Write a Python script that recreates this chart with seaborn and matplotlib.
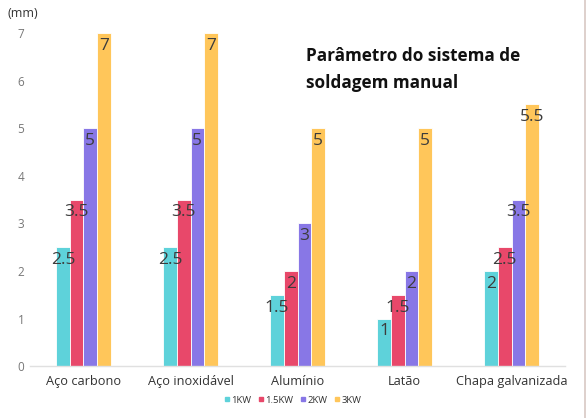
import pandas as pd
import seaborn as sns
import matplotlib.pyplot as plt
from matplotlib.lines import Line2D

# Data
materials = ['Aço carbono', 'Aço inoxidável', 'Alumínio', 'Latão', 'Chapa galvanizada']
power_levels = ['1KW', '1.5KW', '2KW', '3KW']
kw1 = [2.5, 2.5, 1.5, 1, 2]
kw15 = [3.5, 3.5, 2, 1.5, 2.5]
kw2 = [5, 5, 3, 2, 3.5]
kw3 = [7, 7, 5, 5, 5.5]
colors = ['#5ED2DA', '#E8486A', '#8877E6', '#FFC65A']

series = [kw1, kw15, kw2, kw3]
rows = []
for p, vals in zip(power_levels, series):
    for m, v in zip(materials, vals):
        rows.append({'material': m, 'power': p, 'value': v})
df = pd.DataFrame(rows)

sns.set_theme(style='white')
plt.rcParams['font.family'] = ['Open Sans', 'DejaVu Sans']

fig = plt.figure(figsize=(5.88, 4.18), dpi=100)
ax = fig.add_axes([0.051, 0.124, 0.910, 0.797])

sns.barplot(data=df, x='material', y='value', hue='power', palette=colors,
            width=0.51, saturation=1, ax=ax, legend=False,
            edgecolor='white', linewidth=0.6)

# Value labels inside top of each bar
for container in ax.containers:
    for bar in container:
        h = bar.get_height()
        ax.annotate(f'{h:g}', (bar.get_x() + bar.get_width() / 2, h),
                    xytext=(0, -3.5), textcoords='offset points',
                    ha='center', va='top', fontsize=12.5, color='#3C3C3C')

ax.set_ylim(0, 7)
ax.set_xlim(-0.5, 4.5)
ax.set_yticks(range(0, 8))
ax.tick_params(axis='y', labelsize=8.5, colors='#777777', length=0, pad=4)
ax.tick_params(axis='x', labelsize=9.2, colors='#333333', length=0, pad=6)
ax.set_xlabel('')
ax.set_ylabel('')
for s in ['top', 'right', 'left']:
    ax.spines[s].set_visible(False)
ax.spines['bottom'].set_color('#E0E0E0')
ax.spines['bottom'].set_linewidth(1)

fig.text(0.012, 0.968, '(mm)', fontsize=9, color='#333333', va='center')
fig.text(0.52, 0.834, 'Parâmetro do sistema de\nsoldagem manual', fontsize=12.3,
         fontweight='bold', color='#111111', va='center', linespacing=1.6)

handles = [Line2D([], [], marker='s', linestyle='', color=c, markersize=3.5)
           for c in colors]
fig.legend(handles, power_levels, loc='center', bbox_to_anchor=(0.497, 0.043),
           ncol=4, frameon=False, fontsize=6.8, handletextpad=0.1,
           columnspacing=0.6, handlelength=0.8, labelcolor='#333333')

# thin border at right edge
fig.add_artist(Line2D([0.995, 0.995], [0, 1], color='#D8C8C4', linewidth=1.2,
                      transform=fig.transFigure))

fig.savefig('out.png', dpi=100)
